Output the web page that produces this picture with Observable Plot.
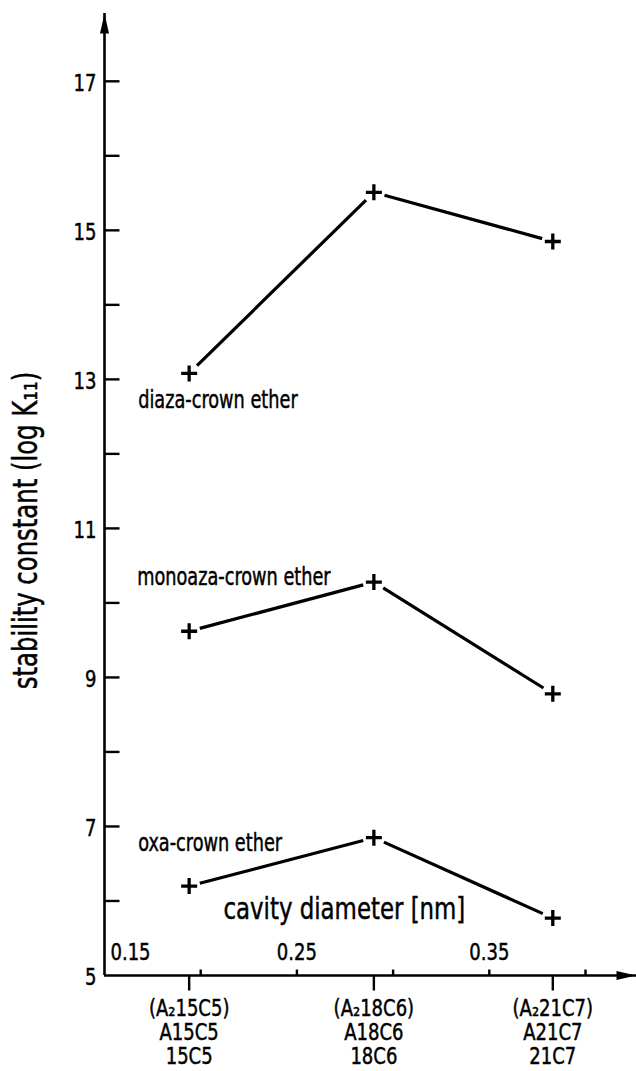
<!DOCTYPE html>
<html>
<head>
<meta charset="utf-8">
<script src="https://cdn.jsdelivr.net/npm/d3@7"></script>
<script src="https://cdn.jsdelivr.net/npm/@observablehq/plot@0.6"></script>
<style>
  html, body { margin: 0; padding: 0; background: #fff; }
  #chart svg { display: block; }
  #chart svg text { stroke: #000; stroke-width: 0.45px; }
</style>
</head>
<body>
<div id="chart"></div>
<script>
// ---- data ----
const cavityDiameter = [0.194, 0.29, 0.383];          // nm, category positions
const catLine1 = ["(A₂15C5)", "(A₂18C6)", "(A₂21C7)"];
const catLine2 = ["A15C5", "A18C6", "A21C7"];
const catLine3 = ["15C5", "18C6", "21C7"];

const seriesNames = ["diaza-crown ether", "monoaza-crown ether", "oxa-crown ether"];
const diaza   = [13.08, 15.51, 14.85];
const monoaza = [9.62, 10.28, 8.78];
const oxa     = [6.2, 6.85, 5.77];

const yTicks = [6, 7, 8, 9, 10, 11, 12, 13, 14, 15, 16, 17];
const yTickLabels = [5, 7, 9, 11, 13, 15, 17];
const xTicks = [0.2, 0.25, 0.3, 0.35, 0.4];
const xTickLabelValues = [0.25, 0.35];
const xFirstLabel = [0.15];

const yTitle = "stability constant (log K₁₁)";
const xTitle = "cavity diameter [nm]";

const xDomain = [0.15, 0.4265];
const yDomain = [5, 17.91];

// ---- derived tables ----
const seriesValues = [diaza, monoaza, oxa];
const segments = [];
seriesValues.forEach((vals, s) => {
  for (let i = 0; i < vals.length - 1; i++) {
    segments.push({series: seriesNames[s], x1: cavityDiameter[i], y1: vals[i], x2: cavityDiameter[i + 1], y2: vals[i + 1]});
  }
});
const points = [];
seriesValues.forEach((vals, s) => vals.forEach((v, i) => points.push({series: seriesNames[s], x: cavityDiameter[i], y: v})));
const categories = cavityDiameter.map((d, i) => ({x: d, label: catLine1[i] + "\n" + catLine2[i] + "\n" + catLine3[i]}));
const firstPoint = s => [{x: cavityDiameter[0], y: seriesValues[s][0], name: seriesNames[s]}];

// ---- custom glyphs ----
const tickRight = {draw(c) { c.moveTo(0, 0); c.lineTo(15, 0); }};
const tickUp    = {draw(c) { c.moveTo(0, 0); c.lineTo(0, -6); }};
const tickDown  = {draw(c) { c.moveTo(0, 0); c.lineTo(0, 15); }};
const plusSym   = {draw(c) { c.moveTo(-8, 0); c.lineTo(8, 0); c.moveTo(0, -8); c.lineTo(0, 8); }};
const headSym   = {draw(c) { c.moveTo(0, 0); c.lineTo(4.5, 20); c.lineTo(-4.5, 20); c.closePath(); }};

const font = "'Liberation Sans Narrow', 'DejaVu Sans Condensed', 'Liberation Sans', sans-serif";

const chart = Plot.plot({
  width: 636,
  height: 1071,
  marginLeft: 104,
  marginRight: 0,
  marginTop: 13,
  marginBottom: 96,
  style: {fontFamily: font, background: "#fff", color: "#000"},
  x: {domain: xDomain, axis: null},
  y: {domain: yDomain, axis: null},
  marks: [
    // axes lines
    Plot.ruleX([xDomain[0]], {stroke: "#000", strokeWidth: 2.6}),
    Plot.ruleY([yDomain[0]], {stroke: "#000", strokeWidth: 2.6}),
    Plot.dot([{x: xDomain[0], y: yDomain[1]}], {x: "x", y: "y", symbol: headSym, fill: "#000", stroke: "none"}),
    Plot.dot([{x: xDomain[1], y: yDomain[0]}], {x: "x", y: "y", symbol: headSym, rotate: 90, fill: "#000", stroke: "none"}),
    // y ticks (inward)
    Plot.dot(yTicks, {x: () => xDomain[0], y: d => d, symbol: tickRight, fill: "none", stroke: "#000", strokeWidth: 2.4}),
    Plot.axisY(yTickLabels, {tickSize: 0, tickPadding: 8, fontSize: 23, dy: 2, tickFormat: d => String(d), label: null}),
    // x ticks (up) and labels
    Plot.dot(xTicks, {x: d => d, y: () => yDomain[0], symbol: tickUp, fill: "none", stroke: "#000", strokeWidth: 2.4}),
    Plot.text(xTickLabelValues, {x: d => d, y: () => yDomain[0], text: d => d.toFixed(2), dy: -16, lineAnchor: "bottom", fontSize: 23, fill: "#000"}),
    Plot.text(xFirstLabel, {x: d => d, y: () => yDomain[0], text: d => d.toFixed(2), dx: 6, dy: -16, textAnchor: "start", lineAnchor: "bottom", fontSize: 23, fill: "#000"}),
    // category ticks (down) and labels
    Plot.dot(categories, {x: "x", y: () => yDomain[0], symbol: tickDown, fill: "none", stroke: "#000", strokeWidth: 2.4}),
    Plot.text(categories, {x: "x", y: () => yDomain[0], text: "label", dy: 24, lineAnchor: "top", lineHeight: 1.04, fontSize: 23, fill: "#000"}),
    // axis titles
    Plot.text([xTitle], {frameAnchor: "bottom-left", dx: 119, dy: -57, textAnchor: "start", lineAnchor: "bottom", fontSize: 31, fill: "#000"}),
    Plot.text([yTitle], {frameAnchor: "left", dx: -78, dy: 36, rotate: -90, textAnchor: "middle", lineAnchor: "middle", fontSize: 33, fill: "#000"}),
    // data lines with gaps and plus markers
    Plot.arrow(segments, {x1: "x1", y1: "y1", x2: "x2", y2: "y2", inset: 11, headLength: 0, stroke: "#000", strokeWidth: 3.2, strokeLinecap: "butt"}),
    Plot.dot(points, {x: "x", y: "y", symbol: plusSym, fill: "none", stroke: "#000", strokeWidth: 3.3, strokeLinecap: "butt"}),
    // series labels
    Plot.text(firstPoint(0), {x: "x", y: "y", text: "name", dx: -51, dy: 35, textAnchor: "start", lineAnchor: "bottom", fontSize: 24, fill: "#000"}),
    Plot.text(firstPoint(1), {x: "x", y: "y", text: "name", dx: -52, dy: -46, textAnchor: "start", lineAnchor: "bottom", fontSize: 24, fill: "#000"}),
    Plot.text(firstPoint(2), {x: "x", y: "y", text: "name", dx: -51, dy: -35, textAnchor: "start", lineAnchor: "bottom", fontSize: 24, fill: "#000"})
  ]
});
document.getElementById("chart").appendChild(chart);

// narrow the lettering (reference uses a condensed grotesque)
chart.querySelectorAll("text").forEach(t => {
  const size = parseFloat(getComputedStyle(t).fontSize);
  const squeeze = size >= 24 ? 0.82 : 0.87;
  const spans = t.querySelectorAll("tspan");
  const targets = spans.length ? Array.from(spans) : [t];
  targets.forEach(el => {
    const w = el.getComputedTextLength();
    if (w > 0) {
      el.setAttribute("textLength", (w * squeeze).toFixed(2));
      el.setAttribute("lengthAdjust", "spacingAndGlyphs");
    }
  });
});
</script>
</body>
</html>
